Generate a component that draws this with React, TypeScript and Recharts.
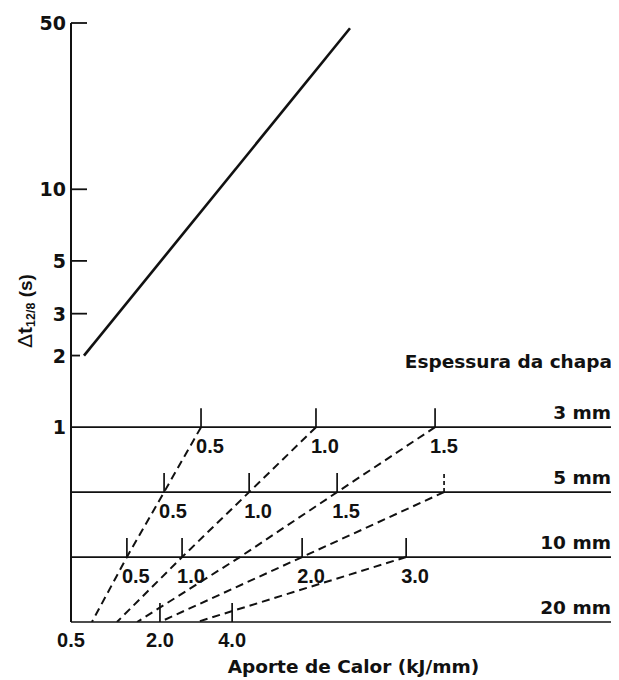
import React from 'react';
import { ComposedChart, Line, Scatter, XAxis, YAxis, ReferenceLine } from 'recharts';

// Plate thickness rows of the nomogram, top to bottom
const PLATES = ['3 mm', '5 mm', '10 mm', '20 mm'];

// Heat input values (kJ/mm) that appear on the plate scales
const HEAT_INPUTS = [0.5, 1.0, 1.5, 2.0, 3.0, 4.0];

// Where each heat input falls on each plate's scale, on the shared abscissa
// (expressed in 3 mm plate units); null where the scale does not reach
const POS_3MM = [0.535, 1.008, 1.498, null, null, null];
const POS_5MM = [0.383, 0.733, 1.095, 1.535, null, null];
const POS_10MM = [0.23, 0.457, 0.695, 0.951, 1.379, null];
const POS_20MM = [0.086, 0.189, 0.272, 0.366, 0.519, 0.663];

// Heat inputs marked with a tick on each row
const MARKED_3MM = [0.5, 1.0, 1.5];
const MARKED_5MM = [0.5, 1.0, 1.5];
const MARKED_10MM = [0.5, 1.0, 2.0, 3.0];
const MARKED_20MM = [2.0, 4.0];
// Unlabelled (dotted) guide ticks
const GUIDE_5MM = [2.0];

// Heat inputs joined across the rows by dashed lines
const ISOPLETHS = [0.5, 1.0, 1.5, 2.0, 3.0];

// Heat-input labels under the bottom (20 mm) row
const BOTTOM_LABELS = ['0.5', '2.0', '4.0'];
const BOTTOM_POS = [0, 0.366, 0.663];

// Cooling time axis, seconds
const DT_TICKS = [1, 2, 3, 5, 10, 50];

// Cooling-time transfer line
const DT_LINE_POS = [0.0535, 1.148];
const DT_LINE_VALUES = [2.0, 47.5];

// ---- layout ----
const W = 611;
const H = 672;
const MARGIN = { top: 15, right: 7, bottom: 28, left: 3 };
const ROW_STEP = 0.273; // vertical gap between plate rows, in decades
const X_MAX = 2.226;
const INK = '#111';
const SANS = "'Liberation Sans', Arial, sans-serif";
const WIDE = "'DejaVu Sans', sans-serif";

const ROW_POSITIONS = [POS_3MM, POS_5MM, POS_10MM, POS_20MM];
const ROW_MARKED = [MARKED_3MM, MARKED_5MM, MARKED_10MM, MARKED_20MM];
const ROW_GUIDES = [[], GUIDE_5MM, [], []];

const rowLevel = (r: number) => -r * ROW_STEP;
const posOf = (r: number, q: number) => ROW_POSITIONS[r][HEAT_INPUTS.indexOf(q)];

const tickData = PLATES.flatMap((_, r) => [
  ...ROW_MARKED[r].map((q) => ({
    pos: posOf(r, q),
    y: rowLevel(r),
    label: r < PLATES.length - 1 ? q.toFixed(1) : null,
    guide: false,
  })),
  ...ROW_GUIDES[r].map((q) => ({ pos: posOf(r, q), y: rowLevel(r), label: null, guide: true })),
]);

const isoplethData = ISOPLETHS.map((q) =>
  PLATES.map((_, r) => ({ pos: posOf(r, q), y: rowLevel(r) })).filter((p) => p.pos != null)
);

const dtLineData = DT_LINE_POS.map((pos, i) => ({ pos, y: Math.log10(DT_LINE_VALUES[i]) }));

const yTicks = DT_TICKS.map((v) => Math.log10(v));

const RowTick = (props: any) => {
  const { cx, cy, payload } = props;
  if (cx == null || cy == null) return null;
  return (
    <g>
      <line
        x1={cx}
        y1={cy}
        x2={cx}
        y2={cy - 19}
        stroke={INK}
        strokeWidth={1.7}
        strokeDasharray={payload.guide ? '4 3' : undefined}
      />
      {payload.label && (
        <text x={cx - 5} y={cy + 26} fontFamily={SANS} fontWeight="bold" fontSize={20} fill={INK}>
          {payload.label}
        </text>
      )}
    </g>
  );
};

const YTick = (props: any) => {
  const { x, y, index } = props;
  const v = DT_TICKS[index];
  return (
    <g>
      {v !== 1 && <line x1={x} y1={y} x2={x + (v === 2 ? 9 : 16)} y2={y} stroke={INK} strokeWidth={1.8} />}
      <text x={x - 5} y={y + 7} textAnchor="end" fontFamily={WIDE} fontWeight="bold" fontSize={19} fill={INK}>
        {v}
      </text>
    </g>
  );
};

const XTick = (props: any) => {
  const { x, y, index } = props;
  return (
    <text x={x} y={y + 25} textAnchor="middle" fontFamily={SANS} fontWeight="bold" fontSize={20} fill={INK}>
      {BOTTOM_LABELS[index]}
    </text>
  );
};

const YLabel = (props: any) => {
  const { viewBox } = props;
  const x = viewBox.x + 21;
  const y = viewBox.y + 288;
  return (
    <text
      x={x}
      y={y}
      transform={`rotate(-90 ${x} ${y})`}
      textAnchor="middle"
      fontFamily={SANS}
      fill={INK}
    >
      <tspan fontSize={21}>Δ</tspan>
      <tspan fontSize={21} fontWeight="bold">t</tspan>
      <tspan fontSize={12.5} fontWeight="bold" dy={3}>12/8</tspan>
      <tspan fontSize={19} fontWeight="bold" dy={-3}> (s)</tspan>
    </text>
  );
};

const XLabel = (props: any) => {
  const { viewBox } = props;
  return (
    <text
      x={viewBox.x + viewBox.width / 2 + 12}
      y={viewBox.y + 51}
      textAnchor="middle"
      fontFamily={WIDE}
      fontWeight="bold"
      fontSize={18.5}
      fill={INK}
    >
      Aporte de Calor (kJ/mm)
    </text>
  );
};

const plateLabel = (r: number) => (props: any) => {
  const { viewBox } = props;
  const right = viewBox.x + viewBox.width - 1;
  return (
    <g>
      {r === 0 && (
        <text x={right + 1} y={viewBox.y - 59} textAnchor="end" fontFamily={WIDE} fontWeight="bold" fontSize={18.5} fill={INK}>
          Espessura da chapa
        </text>
      )}
      <text x={right} y={viewBox.y - 8} textAnchor="end" fontFamily={WIDE} fontWeight="bold" fontSize={18.5} fill={INK}>
        {PLATES[r]}
      </text>
    </g>
  );
};

export default function App() {
  return (
    <div style={{ width: W, height: H, background: '#fff' }}>
      <ComposedChart width={W} height={H} margin={MARGIN}>
        <XAxis
          type="number"
          dataKey="pos"
          domain={[0, X_MAX]}
          allowDataOverflow
          ticks={BOTTOM_POS}
          tick={XTick}
          tickLine={false}
          tickSize={0}
          tickMargin={0}
          axisLine={false}
          height={30}
          label={{ content: XLabel }}
        />
        <YAxis
          type="number"
          domain={[-3 * ROW_STEP, Math.log10(50)]}
          allowDataOverflow
          ticks={yTicks}
          tick={YTick}
          tickLine={false}
          tickSize={0}
          tickMargin={0}
          axisLine={{ stroke: INK, strokeWidth: 2 }}
          width={60}
          label={{ content: YLabel }}
        />
        {PLATES.map((p, r) => (
          <ReferenceLine
            key={p}
            y={rowLevel(r)}
            stroke={INK}
            strokeWidth={1.7}
            ifOverflow="visible"
            label={{ content: plateLabel(r) }}
          />
        ))}
        {isoplethData.map((d, i) => (
          <Line
            key={ISOPLETHS[i]}
            data={d}
            dataKey="y"
            stroke={INK}
            strokeWidth={2}
            strokeDasharray="8 5"
            dot={false}
            activeDot={false}
            isAnimationActive={false}
          />
        ))}
        <Line
          data={dtLineData}
          dataKey="y"
          stroke={INK}
          strokeWidth={2.6}
          dot={false}
          activeDot={false}
          isAnimationActive={false}
        />
        <Scatter data={tickData} dataKey="y" shape={RowTick} isAnimationActive={false} />
      </ComposedChart>
    </div>
  );
}
